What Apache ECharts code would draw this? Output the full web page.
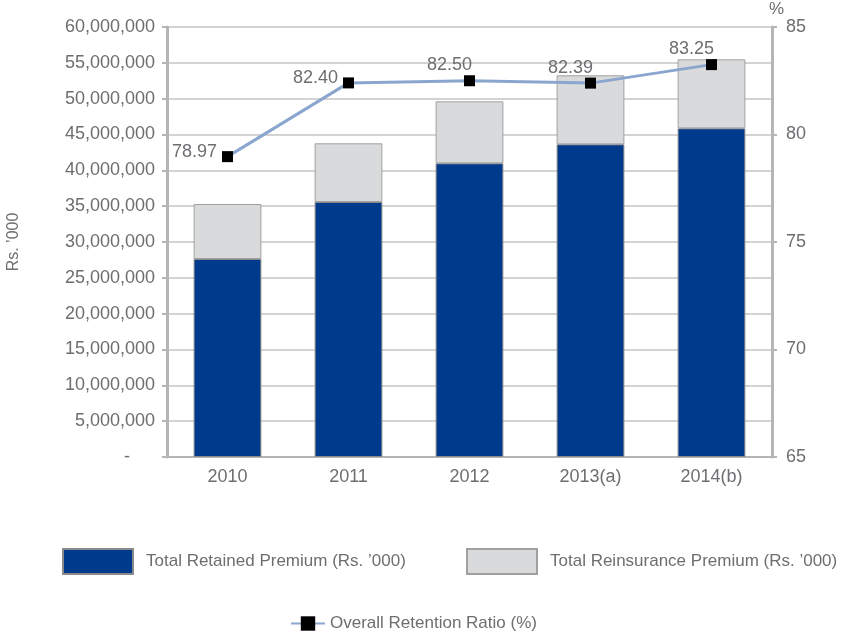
<!DOCTYPE html>
<html>
<head>
<meta charset="utf-8">
<script src="https://cdn.jsdelivr.net/npm/echarts@6/dist/echarts.min.js"></script>
<style>
  html, body { margin: 0; padding: 0; background: #fff; }
  #chart { width: 845px; height: 631px; }
</style>
</head>
<body>
<div id="chart"></div>
<script>
// data
var years = ['2010', '2011', '2012', '2013(a)', '2014(b)'];
var retained = [27630000, 35580000, 40980000, 43630000, 45860000];
var reinsurance = [7670000, 8190000, 8650000, 9630000, 9630000];
var ratio = [78.97, 82.40, 82.50, 82.39, 83.25];

var grey = '#6d6e71';
var axisGrey = '#b5b5b5';
var font = 'Liberation Sans';

var chart = echarts.init(document.getElementById('chart'));

function money(v) {
    if (v === 0) return '-     ';
    return v.toString().replace(/\B(?=(\d{3})+(?!\d))/g, ',');
}

var option = {
    animation: false,
    textStyle: { fontFamily: font },
    grid: { left: 167, right: 73, top: 27, bottom: 174, outerBoundsMode: 'none', containLabel: false },
    legend: [{
        data: ['Total Retained Premium (Rs. \u2019000)'],
        left: 57, top: 543,
        icon: 'rect',
        itemWidth: 70, itemHeight: 25,
        textStyle: { color: grey, fontSize: 17, fontFamily: font, padding: [0, 0, 0, 8] }
    }, {
        data: ['Total Reinsurance Premium (Rs. \u2019000)'],
        left: 461, top: 543,
        icon: 'rect',
        itemWidth: 70, itemHeight: 25,
        textStyle: { color: grey, fontSize: 17, fontFamily: font, padding: [0, 0, 0, 8] }
    }, {
        data: ['Overall Retention Ratio (%)'],
        left: 285, top: 610,
        itemWidth: 34, itemHeight: 18,
        textStyle: { color: grey, fontSize: 17, fontFamily: font }
    }],
    xAxis: {
        type: 'category',
        data: years,
        axisLine: { lineStyle: { color: axisGrey, width: 2 } },
        axisTick: { show: false },
        axisLabel: { color: grey, fontSize: 18, margin: 11 }
    },
    yAxis: [{
        type: 'value',
        min: 0, max: 60000000, interval: 5000000,
        name: 'Rs. \u2019000',
        nameLocation: 'middle',
        nameGap: 145,
        nameRotate: 90,
        nameTextStyle: { color: grey, fontSize: 16 },
        axisLine: { show: true, lineStyle: { color: axisGrey, width: 3 } },
        axisTick: { show: true, length: 5, lineStyle: { color: axisGrey, width: 2 } },
        axisLabel: { color: grey, fontSize: 18, margin: 12, formatter: money },
        splitLine: { lineStyle: { color: '#c4c4c4', width: 1.5 } }
    }, {
        type: 'value',
        min: 65, max: 85, interval: 5,
        name: '%',
        nameGap: 3,
        nameTextStyle: { color: grey, fontSize: 17, align: 'left', padding: [0, 0, 0, -3] },
        axisLine: { show: true, lineStyle: { color: axisGrey, width: 3 } },
        axisTick: { show: true, length: 5, lineStyle: { color: axisGrey, width: 2 } },
        axisLabel: { color: grey, fontSize: 18, margin: 14 },
        splitLine: { show: false }
    }],
    series: [{
        name: 'Total Retained Premium (Rs. \u2019000)',
        type: 'bar',
        stack: 'prem',
        barWidth: '56%',
        itemStyle: { color: '#003a8c', borderColor: '#8a8a8a', borderWidth: 1 },
        data: retained
    }, {
        name: 'Total Reinsurance Premium (Rs. \u2019000)',
        type: 'bar',
        stack: 'prem',
        barWidth: '56%',
        itemStyle: { color: '#d9dadb', borderColor: '#a0a0a0', borderWidth: 1 },
        data: reinsurance
    }, {
        name: 'Overall Retention Ratio (%)',
        type: 'line',
        yAxisIndex: 1,
        z: 5,
        symbol: 'rect',
        symbolSize: 11,
        lineStyle: { color: '#8aa6cf', width: 3 },
        itemStyle: { color: '#000' },
        label: {
            show: true,
            color: grey,
            fontSize: 18,
            formatter: function (p) { return p.value.toFixed(2); }
        },
        data: ratio.map(function (v, i) {
            var lab = i < 2 ? { position: 'left', distance: 5, offset: [0, -5] }
                            : { position: 'top', distance: 1, offset: [-20, 0] };
            return { value: v, label: lab };
        })
    }]
};

chart.setOption(option);
</script>
</body>
</html>
